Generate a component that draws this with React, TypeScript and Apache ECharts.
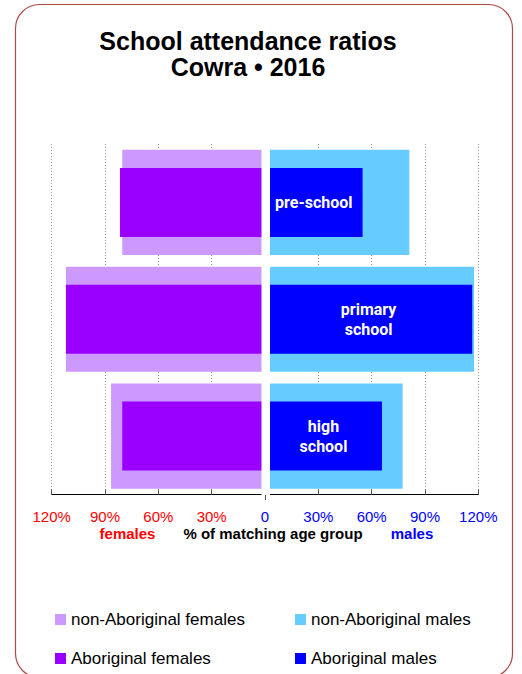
import React, { useEffect, useRef } from "react";
import * as echarts from "echarts";

const categories = ["pre-school", "primary school", "high school"];
const nonAbFemales = [80.3, 112, 86.6];
const abFemales = [81.6, 112, 80.3];
const nonAbMales = [81.2, 117.6, 77.4];
const abMales = [54.9, 116.6, 65.8];
const seriesNames = [
  "non-Aboriginal females",
  "Aboriginal females",
  "non-Aboriginal males",
  "Aboriginal males",
];
const titleLines = ["School attendance ratios", "Cowra \u2022 2016"];

const FONT = "'Liberation Sans', Arial, sans-serif";

export default function App() {
  const ref = useRef<HTMLDivElement>(null);
  useEffect(() => {
    if (!ref.current) return;
    const chart = echarts.init(ref.current, null, { renderer: "svg" });
    const neg = (a: number[]) => a.map((v) => -v);
    const legendBase = {
      orient: "vertical",
      top: 611,
      icon: "rect",
      itemWidth: 11,
      itemHeight: 11,
      itemGap: 22,
      padding: 0,
      textStyle: { fontSize: 17, fontFamily: FONT, color: "#000" },
    };
    chart.setOption({
      animation: false,
      backgroundColor: "#ffffff",
      grid: { left: 51.7, right: 43.7, top: 144, bottom: 179.5 },
      xAxis: {
        type: "value",
        min: -120,
        max: 120,
        interval: 30,
        axisLine: { show: true, lineStyle: { color: "#000", width: 1 } },
        axisTick: { show: true, inside: true, length: 5, lineStyle: { color: "#555" } },
        splitLine: { show: true, lineStyle: { color: "#9a9a9a", type: [1, 2], width: 1 } },
        axisLabel: {
          margin: 14,
          fontSize: 15,
          fontFamily: FONT,
          color: (v: any) => (Number(v) < 0 ? "#ff0000" : "#0000ff"),
          formatter: (v: number) => (v === 0 ? "0" : Math.abs(v) + "%"),
        },
      },
      yAxis: [
        { type: "category", data: categories, inverse: true, show: false },
        { type: "category", data: categories, inverse: true, show: false },
      ],
      legend: [
        { ...legendBase, data: [seriesNames[0], seriesNames[1]], left: 55 },
        { ...legendBase, data: [seriesNames[2], seriesNames[3]], left: 295 },
      ],
      series: [
        {
          name: seriesNames[0],
          type: "bar",
          yAxisIndex: 0,
          stack: "nonab",
          barWidth: "90%",
          data: neg(nonAbFemales),
          itemStyle: { color: "#cc99ff" },
        },
        {
          name: seriesNames[2],
          type: "bar",
          yAxisIndex: 0,
          stack: "nonab",
          barWidth: "90%",
          data: nonAbMales,
          itemStyle: { color: "#66ccff" },
        },
        {
          name: seriesNames[1],
          type: "bar",
          yAxisIndex: 1,
          stack: "ab",
          barWidth: "59%",
          data: neg(abFemales),
          itemStyle: { color: "#9900ff" },
        },
        {
          name: seriesNames[3],
          type: "bar",
          yAxisIndex: 1,
          stack: "ab",
          barWidth: "59%",
          data: abMales,
          itemStyle: { color: "#0000ff" },
          label: {
            show: true,
            position: "inside",
            color: "#ffffff",
            fontWeight: "bold",
            fontSize: 16,
            lineHeight: 20,
            fontFamily: "Roboto, sans-serif",
            formatter: (p: any) => String(p.name).replace(" ", "\n"),
          },
        },
      ],
      graphic: [
        {
          type: "rect",
          z: 100,
          shape: { x: 15.5, y: 4.5, width: 497, height: 673, r: 24 },
          style: { fill: "none", stroke: "#b04848", lineWidth: 1.2 },
          silent: true,
        },
        {
          type: "rect",
          z: 100,
          shape: { x: 261.5, y: 138, width: 8.5, height: 357.5 },
          style: { fill: "#ffffff" },
          silent: true,
        },
        {
          type: "line",
          z: 101,
          shape: { x1: 265.5, y1: 495, x2: 265.5, y2: 500 },
          style: { stroke: "#555", lineWidth: 1 },
          silent: true,
        },
        {
          type: "text",
          z: 100,
          x: 248,
          y: 41,
          style: {
            text: titleLines[0],
            fontSize: 25,
            fontWeight: "bold",
            fontFamily: FONT,
            fill: "#000",
            align: "center",
            verticalAlign: "middle",
          },
        },
        {
          type: "text",
          z: 100,
          x: 248,
          y: 67,
          style: {
            text: titleLines[1],
            fontSize: 25,
            fontWeight: "bold",
            fontFamily: FONT,
            fill: "#000",
            align: "center",
            verticalAlign: "middle",
          },
        },
        {
          type: "text",
          z: 100,
          x: 127.5,
          y: 533,
          style: {
            text: "females",
            fontSize: 15,
            fontWeight: "bold",
            fontFamily: FONT,
            fill: "#ff0000",
            align: "center",
            verticalAlign: "middle",
          },
        },
        {
          type: "text",
          z: 100,
          x: 273,
          y: 533,
          style: {
            text: "% of matching age group",
            fontSize: 15,
            fontWeight: "bold",
            fontFamily: FONT,
            fill: "#000",
            align: "center",
            verticalAlign: "middle",
          },
        },
        {
          type: "text",
          z: 100,
          x: 412,
          y: 533,
          style: {
            text: "males",
            fontSize: 15,
            fontWeight: "bold",
            fontFamily: FONT,
            fill: "#0000ff",
            align: "center",
            verticalAlign: "middle",
          },
        },
      ],
    });
    return () => chart.dispose();
  }, []);
  return (
    <div
      ref={ref}
      style={{ position: "fixed", left: 0, top: 0, width: 522, height: 674 }}
    />
  );
}
